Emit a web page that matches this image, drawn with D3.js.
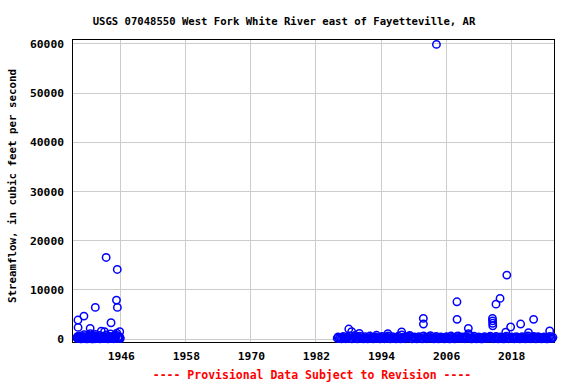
<!DOCTYPE html>
<html><head><meta charset="utf-8">
<script src="https://cdn.jsdelivr.net/npm/d3@7"></script>
<style>
html,body{margin:0;padding:0;background:#fff;}
svg{display:block;}
text{font-family:"DejaVu Sans Mono",monospace;font-weight:bold;}
</style></head>
<body>
<script>
const title = "USGS 07048550 West Fork White River east of Fayetteville, AR";
const yLabel = "Streamflow, in cubic feet per second";
const footer = "---- Provisional Data Subject to Revision ----";
const xTicks = [1946, 1958, 1970, 1982, 1994, 2006, 2018];
const yTicks = [0, 10000, 20000, 30000, 40000, 50000, 60000];

// Measurement dates (decimal years) and streamflow (cfs)
const earlyDates = [1937.92,1937.98,1938.05,1938.10,1938.12,1938.18,1938.24,1938.30,1938.38,1938.45,1938.52,1938.60,1938.68,1938.75,1938.83,1938.90,
 1938.97,1939.05,1939.13,1939.20,1939.25,1939.33,1939.40,1939.48,1939.55,1939.62,1939.70,1939.78,1939.85,1939.93,1940.00,1940.08,1940.15,1940.25,1940.35,1940.40,1940.48,1940.55,1940.62,1940.70,1940.78,1940.85,1940.93,
 1941.00,1941.08,1941.15,1941.23,1941.30,1941.35,1941.43,1941.50,1941.58,1941.65,1941.73,1941.80,1941.88,1941.95,1942.03,1942.10,1942.18,1942.25,1942.33,1942.40,1942.48,1942.55,1942.63,1942.70,1942.78,1942.85,1942.93,
 1943.00,1943.05,1943.10,1943.20,1943.30,1943.35,1943.43,1943.50,1943.58,1943.65,1943.73,1943.80,1943.88,1943.95,1944.03,1944.10,1944.20,1944.28,1944.35,1944.43,1944.50,1944.58,1944.65,1944.73,1944.80,1944.88,1944.95,
 1945.03,1945.10,1945.20,1945.25,1945.35,1945.37,1945.45,1945.53,1945.60,1945.65,1945.70,1945.75,1945.80,1945.85,1945.90];
const earlyFlows = [310,120,520,3860,2370,180,430,95,260,640,70,140,330,60,510,220,
 150,410,90,4670,880,260,150,470,70,200,300,120,45,380,560,90,230,650,2170,1100,310,120,60,380,200,55,440,
 690,130,260,70,6430,940,350,180,500,80,240,430,110,150,340,720,60,310,180,1600,420,200,130,90,560,470,240,
 1480,210,380,90,16590,830,270,160,440,65,190,290,110,540,320,1050,3310,150,240,470,130,280,75,180,610,90,350,
 230,820,7920,1200,14150,6430,280,90,140,430,520,200,1480,330,90];

const lateDates = [1985.92,1986.08,1986.27,1986.51,1986.70,1986.88,
 1987.06,1987.24,1987.47,1987.69,1987.90,
 1988.05,1988.12,1988.33,1988.58,1988.62,1988.80,
 1989.02,1989.21,1989.44,1989.63,1989.87,
 1990.00,1990.09,1990.30,1990.55,1990.76,1990.93,
 1991.10,1991.31,1991.52,1991.74,1991.95,
 1992.14,1992.36,1992.57,1992.78,1992.97,
 1993.16,1993.39,1993.60,1993.81,1993.99,
 1994.20,1994.41,1994.62,1994.84,1995.04,
 1995.25,1995.28,1995.48,1995.70,1995.91,
 1996.12,1996.33,1996.55,1996.76,1996.96,
 1997.17,1997.38,1997.60,1997.80,1997.83,
 1998.03,1998.24,1998.46,1998.67,1998.88,
 1999.08,1999.30,1999.51,1999.72,1999.93,
 2000.14,2000.35,2000.57,2000.78,2000.98,
 2001.19,2001.41,2001.62,2001.80,2001.82,2001.85,
 2002.05,2002.26,2002.48,2002.69,2002.90,
 2003.11,2003.32,2003.54,2003.75,2003.96,
 2004.17,2004.22,2004.40,2004.61,2004.82,
 2005.03,2005.24,2005.46,2005.67,2005.88,
 2006.09,2006.30,2006.52,2006.73,2006.90,
 2007.14,2007.35,2007.57,2007.78,2007.98,
 2008.00,2008.02,2008.20,2008.41,2008.63,2008.84,
 2009.05,2009.26,2009.48,2009.69,2009.90,
 2010.10,2010.13,2010.16,2010.34,2010.55,2010.76,2010.97,
 2011.18,2011.39,2011.61,2011.82,2012.03,
 2012.24,2012.46,2012.67,2012.88,
 2013.09,2013.30,2013.52,2013.73,2013.94,
 2014.15,2014.36,2014.55,2014.57,2014.59,2014.61,2014.78,2014.99,
 2015.20,2015.22,2015.41,2015.62,2015.83,2015.95,
 2016.04,2016.25,2016.47,2016.68,2016.89,
 2017.00,2017.10,2017.20,2017.31,2017.52,2017.73,2017.90,
 2018.11,2018.32,2018.54,2018.75,2018.96,
 2019.17,2019.38,2019.60,2019.75,2019.81,
 2020.02,2020.23,2020.45,2020.66,2020.87,
 2021.08,2021.20,2021.29,2021.51,2021.72,2021.93,
 2022.14,2022.17,2022.35,2022.56,2022.77,2022.98,
 2023.19,2023.40,2023.62,2023.83,2024.04,
 2024.25,2024.46,2024.67,2024.88,
 2025.10,2025.12,2025.31,2025.52,2025.70];
const lateFlows = [180,420,95,260,40,310,
 530,150,70,220,380,
 2030,640,110,1500,50,270,
 460,720,130,60,340,
 1150,580,210,85,35,290,
 490,170,65,240,610,
 350,120,45,200,430,
 760,260,90,30,310,
 520,180,70,240,390,
 1100,650,140,55,280,
 470,210,80,35,330,
 560,190,60,1450,820,
 370,150,70,260,440,
 590,750,120,45,300,
 410,170,60,230,500,
 280,110,40,4200,3050,620,
 350,180,75,250,460,
 690,220,90,40,310,
 540,59900,160,65,260,
 420,190,80,35,300,
 480,230,70,45,610,
 360,150,60,270,530,
 7570,4000,640,200,85,290,
 450,170,70,240,380,
 2170,1100,780,210,75,40,320,
 560,190,65,250,430,
 160,55,30,280,
 470,210,80,240,390,
 600,180,4200,3700,3200,2700,70,300,
 7100,520,170,60,250,8260,
 440,200,75,35,330,
 1400,580,13000,210,70,260,2450,
 410,160,60,230,500,
 300,120,45,3050,270,
 460,190,80,35,340,
 620,1280,210,70,250,420,
 4000,550,170,60,260,480,
 310,130,50,230,450,
 180,70,30,290,
 1650,520,200,80,350];

const W = 576, H = 384;
const m = {left: 72, right: 554, top: 39, bottom: 342};

const svg = d3.select("body").append("svg").attr("width", W).attr("height", H);

const x = d3.scaleLinear().domain([1937.0, 2025.9]).range([m.left, m.right]);
const y = d3.scaleLinear().domain([-600, 61000]).range([m.bottom, m.top]);

// gridlines
svg.append("g").selectAll("line.v").data(xTicks).join("line")
  .attr("x1", d => x(d)).attr("x2", d => x(d))
  .attr("y1", m.top).attr("y2", m.bottom)
  .attr("stroke", "#cccccc").attr("stroke-width", 1).attr("shape-rendering", "crispEdges");
svg.append("g").selectAll("line.h").data(yTicks).join("line")
  .attr("x1", m.left).attr("x2", m.right)
  .attr("y1", d => y(d)).attr("y2", d => y(d))
  .attr("stroke", "#cccccc").attr("stroke-width", 1).attr("shape-rendering", "crispEdges");

// axes labels via d3 axes (no tick marks)
const xAxis = d3.axisBottom(x).tickValues(xTicks).tickFormat(d3.format("d")).tickSize(0).tickPadding(10);
const gx = svg.append("g").attr("transform", `translate(0,${m.bottom})`).call(xAxis);
gx.select(".domain").remove();
gx.selectAll("text").attr("font-size", "11.3px").attr("fill", "#000")
  .attr("font-family", "DejaVu Sans Mono").attr("font-weight", "bold");

const yAxis = d3.axisLeft(y).tickValues(yTicks).tickFormat(d3.format("d")).tickSize(0).tickPadding(8);
const gy = svg.append("g").attr("transform", `translate(${m.left},0)`).call(yAxis);
gy.select(".domain").remove();
gy.selectAll("text").attr("font-size", "11.3px").attr("fill", "#000")
  .attr("font-family", "DejaVu Sans Mono").attr("font-weight", "bold");

// frame
svg.append("rect").attr("x", m.left + 0.5).attr("y", m.top + 0.5)
  .attr("width", m.right - m.left).attr("height", m.bottom - m.top)
  .attr("fill", "none").attr("stroke", "#000").attr("stroke-width", 1);

// points
const pts = earlyDates.map((d, i) => [d, earlyFlows[i]])
  .concat(lateDates.map((d, i) => [d, lateFlows[i]]));
svg.append("g").selectAll("circle").data(pts).join("circle")
  .attr("cx", d => x(d[0])).attr("cy", d => y(d[1])).attr("r", 3.7)
  .attr("fill", "none").attr("stroke", "#0000ff").attr("stroke-width", 1.5);

// title
svg.append("text").attr("x", 284).attr("y", 24.5).attr("text-anchor", "middle")
  .attr("font-size", "10.6px").attr("fill", "#000").text(title);

// y label
svg.append("text").attr("transform", "translate(16,186) rotate(-90)")
  .attr("text-anchor", "middle").attr("font-size", "10.8px").attr("fill", "#000").text(yLabel);

// footer
svg.append("text").attr("x", 312).attr("y", 378.5).attr("text-anchor", "middle")
  .attr("font-size", "11.5px").attr("fill", "#ff0000").text(footer);
</script>
</body></html>
